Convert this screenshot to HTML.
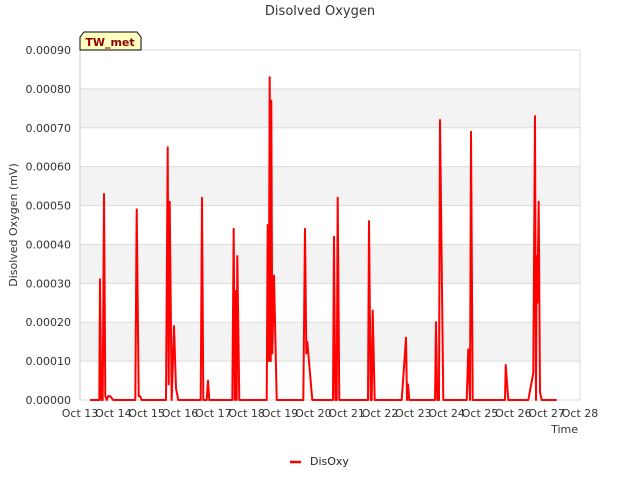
<!DOCTYPE html>
<html><head><meta charset="utf-8"><style>
body{margin:0;background:#fff;font-family:"DejaVu Sans","Liberation Sans",sans-serif;}
svg text{font-family:"DejaVu Sans","Liberation Sans",sans-serif;}
</style></head><body>
<svg id="chart" width="640" height="480" xmlns="http://www.w3.org/2000/svg">
<rect width="640" height="480" fill="#fff"/>
<text x="320" y="15" text-anchor="middle" font-size="13" fill="#333">Disolved Oxygen</text>
<g id="bands"></g>
<g id="yaxis"></g>
<g id="xaxis"></g>
<polyline id="series" fill="none" stroke="#ff0000" stroke-width="2" stroke-linejoin="round"/>
<text transform="translate(17,225) rotate(-90)" text-anchor="middle" font-size="11" fill="#333">Disolved Oxygen (mV)</text>
<text x="578" y="433" text-anchor="end" font-size="11" fill="#333">Time</text>
<g>
<path d="M80,50 L80,37 L84,32 L137,32 L141,37 L141,50 Z" fill="#ffffc0" stroke="#000" stroke-width="1"/>
<text x="110" y="46" text-anchor="middle" font-size="11" font-weight="bold" fill="#8b0000">TW_met</text>
</g>
<g>
<line x1="290" y1="462" x2="301" y2="462" stroke="#ff0000" stroke-width="2.5"/>
<text x="310" y="465" font-size="11" fill="#222">DisOxy</text>
</g>
</svg>
<script>
const yTicks=[0,0.0001,0.0002,0.0003,0.0004,0.0005,0.0006,0.0007,0.0008,0.0009];
const xLabels=["Oct 13","Oct 14","Oct 15","Oct 16","Oct 17","Oct 18","Oct 19","Oct 20","Oct 21","Oct 22","Oct 23","Oct 24","Oct 25","Oct 26","Oct 27","Oct 28"];
const days=[0.3,0.58,0.6,0.64,0.68,0.72,0.76,0.8,0.85,0.9,1.0,1.66,1.7,1.76,1.8,1.85,2.58,2.63,2.66,2.69,2.75,2.82,2.88,2.95,3.62,3.66,3.7,3.8,3.84,3.88,4.57,4.61,4.64,4.67,4.7,4.72,4.78,5.6,5.63,5.66,5.69,5.72,5.74,5.77,5.82,5.9,6.7,6.75,6.79,6.82,6.97,7.59,7.62,7.66,7.7,7.73,7.78,8.64,8.67,8.72,8.75,8.78,8.84,9.65,9.78,9.81,9.84,9.88,10.65,10.68,10.72,10.77,10.8,10.9,11.6,11.65,11.7,11.73,11.78,12.75,12.77,12.85,13.45,13.6,13.65,13.68,13.7,13.72,13.76,13.8,13.85,14.3];
const vals=[0,0,0.00031,0,0,0.00053,0.00001,0,0.00001,0.00001,0,0,0.00049,0.00001,0.00001,0,0,0.00065,0.00004,0.00051,0,0.00019,0.00003,0,0,0.00052,0,0,0.00005,0,0,0.00044,0,0.00028,0,0.00037,0,0,0.00045,0.0001,0.00083,0.0001,0.00077,0.00012,0.00032,0,0,0.00044,0.00012,0.00015,0,0,0.00042,0,0,0.00052,0,0,0.00046,0,0,0.00023,0,0,0.00016,0,0.00004,0,0,0.0002,0,0,0.00072,0,0,0.00013,0,0.00069,0,0,0.00009,0,0,0.00007,0.00073,0,0.00037,0.00025,0.00051,0.00002,0,0];
const L=80,R=580,T=50,B=400;
const ymax=0.0009,xmax=15;
const ys=v=>B-(v/ymax)*(B-T);
const xs=d=>L+(d/xmax)*(R-L);
const NS="http://www.w3.org/2000/svg";
function mk(tag,attrs,parent){const e=document.createElementNS(NS,tag);for(const k in attrs)e.setAttribute(k,attrs[k]);document.getElementById(parent).appendChild(e);return e;}
for(let i=0;i<yTicks.length-1;i++){
  const r=mk('rect',{x:L,y:ys(yTicks[i+1]),width:R-L,height:ys(yTicks[i])-ys(yTicks[i+1]),fill:i%2?'#f3f3f3':'#fff'},'bands');
  
  
}
yTicks.forEach(v=>{
  const g=mk('line',{x1:L,x2:R,y1:ys(v),y2:ys(v),stroke:'#ddd','stroke-width':1},'yaxis');
  
  
  const t=mk('text',{x:L-9,y:ys(v)+4,'text-anchor':'end','font-size':11,fill:'#333'},'yaxis');
  
  
  t.textContent=v.toFixed(5);
});
mk('line',{x1:L,x2:L,y1:T,y2:B,stroke:'#ccc'},'yaxis');
mk('line',{x1:R,x2:R,y1:T,y2:B,stroke:'#ddd'},'yaxis');
xLabels.forEach((s,i)=>{
  const t=mk('text',{x:xs(i),y:B+17,'text-anchor':'middle','font-size':11,fill:'#333'},'xaxis');
  
  
  t.textContent=s;
});
document.getElementById('series').setAttribute('points',days.map((d,i)=>xs(d).toFixed(1)+','+ys(vals[i]).toFixed(1)).join(' '));
</script>
</body></html>
